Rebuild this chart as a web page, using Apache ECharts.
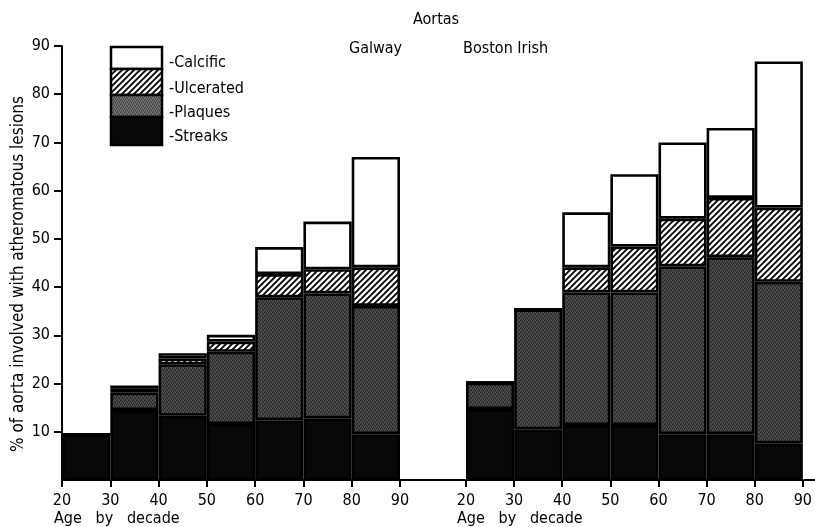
<!DOCTYPE html>
<html>
<head>
<meta charset="utf-8">
<script src="https://cdn.jsdelivr.net/npm/echarts@6/dist/echarts.min.js"></script>
<style>
  html, body { margin: 0; padding: 0; background: #fff; }
  #main { width: 815px; height: 527px; }
</style>
</head>
<body>
<div id="main"></div>
<script>
// decades shown as bars, tick labels under each panel
var decades = ['20-30', '30-40', '40-50', '50-60', '60-70', '70-80', '80-90'];
var ageTicks = [20, 30, 40, 50, 60, 70, 80, 90];
var yTicks = [10, 20, 30, 40, 50, 60, 70, 80, 90];
var lesionNames = ['Calcific', 'Ulcerated', 'Plaques', 'Streaks'];

// Galway (% of aorta per lesion type, stacked from the bottom)
var galwayStreaks   = [9.5, 14.5, 13.3, 11.6, 12.4, 12.8, 9.5];
var galwayPlaques   = [0, 3.6, 10.7, 15.0, 25.5, 25.9, 26.6];
var galwayUlcerated = [0, 0.8, 1.2, 2.1, 4.8, 5.0, 8.0];
var galwayCalcific  = [0, 0.7, 1.1, 1.4, 5.6, 9.9, 22.9];

// Boston Irish
var bostonStreaks   = [14.7, 10.5, 11.4, 11.4, 9.5, 9.5, 7.6];
var bostonPlaques   = [5.5, 24.9, 27.5, 27.5, 34.8, 36.7, 33.5];
var bostonUlcerated = [0, 0, 5.2, 9.5, 9.9, 12.3, 15.4];
var bostonCalcific  = [0, 0, 11.4, 15.0, 15.8, 14.5, 30.3];

var ink = '#000';
var font = 'DejaVu Sans Condensed';

// hatch for ulcerated
function hatchPattern() {
  var c = document.createElement('canvas');
  c.width = 6; c.height = 6;
  var g = c.getContext('2d');
  g.fillStyle = '#fff';
  g.fillRect(0, 0, 6, 6);
  g.strokeStyle = '#000';
  g.lineWidth = 1.9;
  g.beginPath();
  g.moveTo(0, 6); g.lineTo(6, 0);
  g.moveTo(-1, 1); g.lineTo(1, -1);
  g.moveTo(5, 7); g.lineTo(7, 5);
  g.stroke();
  return c;
}

// stipple for plaques
function stipplePattern(base, dark, light) {
  var c = document.createElement('canvas');
  c.width = 4; c.height = 4;
  var g = c.getContext('2d');
  g.fillStyle = base;
  g.fillRect(0, 0, 4, 4);
  g.fillStyle = dark;
  g.fillRect(0, 0, 1, 1); g.fillRect(2, 1, 1, 1); g.fillRect(1, 3, 1, 1); g.fillRect(3, 2, 1, 1);
  g.fillStyle = light;
  g.fillRect(1, 1, 1, 1); g.fillRect(3, 0, 1, 1); g.fillRect(0, 2, 1, 1); g.fillRect(2, 3, 1, 1);
  return c;
}

var fills = {
  Streaks: '#080808',
  Plaques: { image: stipplePattern('#3e3e3e', '#262626', '#575757'), repeat: 'repeat' },
  Ulcerated: { image: hatchPattern(), repeat: 'repeat' },
  Calcific: '#fff'
};
var legendFills = {
  Streaks: fills.Streaks,
  Plaques: { image: stipplePattern('#5e5e5e', '#444', '#7a7a7a'), repeat: 'repeat' },
  Ulcerated: fills.Ulcerated,
  Calcific: fills.Calcific
};

function barSeries(name, data, idx) {
  return {
    name: name,
    type: 'bar',
    stack: 'panel' + idx,
    xAxisIndex: idx * 2,
    yAxisIndex: idx,
    barCategoryGap: '0%',
    data: data,
    silent: true,
    itemStyle: { color: fills[name], borderColor: '#000', borderWidth: 2.6 }
  };
}

function ageAxis(grid) {
  return {
    type: 'value', gridIndex: grid, min: 20, max: 90, interval: 10, position: 'bottom',
    axisLine: { lineStyle: { color: '#000', width: 2 } },
    axisTick: { length: 7, lineStyle: { color: '#000', width: 2 } },
    axisLabel: { customValues: ageTicks, color: ink, fontFamily: font, fontSize: 16, margin: 13 },
    splitLine: { show: false }
  };
}

var chart = echarts.init(document.getElementById('main'));

// legend swatch (stacked box) drawn by hand like the original
var legendY = [47, 69, 95, 117, 145];
var legendGraphics = [];
lesionNames.forEach(function (n, i) {
  legendGraphics.push({
    type: 'rect', silent: true,
    shape: { x: 111, y: legendY[i], width: 51, height: legendY[i + 1] - legendY[i] },
    style: { fill: legendFills[n], stroke: '#000', lineWidth: 2.5 }
  });
});
var legendTextY = [63, 89, 113, 137];
lesionNames.forEach(function (n, i) {
  legendGraphics.push({
    type: 'text', silent: true, x: 169, y: legendTextY[i],
    style: { text: '-' + n, fill: ink, font: '16px ' + font, verticalAlign: 'middle' }
  });
});

var option = {
  animation: false,
  backgroundColor: '#fff',
  grid: [
    { left: 62, top: 46, width: 338, height: 434 },
    { left: 466, top: 46, width: 339, height: 434 }
  ],
  xAxis: [
    { type: 'category', gridIndex: 0, data: decades, show: false },
    ageAxis(0),
    { type: 'category', gridIndex: 1, data: decades, show: false },
    ageAxis(1)
  ],
  yAxis: [
    {
      type: 'value', gridIndex: 0, min: 0, max: 90, interval: 10,
      name: '% of aorta involved with atheromatous lesions',
      nameLocation: 'middle', nameGap: 35,
      nameTextStyle: { color: ink, fontFamily: font, fontSize: 17, padding: [0, 22, 0, 0] },
      axisLine: { show: true, lineStyle: { color: '#000', width: 2 } },
      axisTick: { show: true, customValues: yTicks, length: 8, lineStyle: { color: '#000', width: 2 } },
      axisLabel: { customValues: yTicks, color: ink, fontFamily: font, fontSize: 16, margin: 12 },
      splitLine: { show: false }
    },
    { type: 'value', gridIndex: 1, min: 0, max: 90, interval: 10, show: false, splitLine: { show: false } }
  ],
  series: [
    barSeries('Streaks', galwayStreaks, 0),
    barSeries('Plaques', galwayPlaques, 0),
    barSeries('Ulcerated', galwayUlcerated, 0),
    barSeries('Calcific', galwayCalcific, 0),
    barSeries('Streaks', bostonStreaks, 1),
    barSeries('Plaques', bostonPlaques, 1),
    barSeries('Ulcerated', bostonUlcerated, 1),
    barSeries('Calcific', bostonCalcific, 1)
  ],
  graphic: legendGraphics.concat([
    { type: 'text', silent: true, x: 436, y: 20, style: { text: 'Aortas', fill: ink, font: '16px ' + font, align: 'center', verticalAlign: 'middle' } },
    { type: 'text', silent: true, x: 349, y: 49, style: { text: 'Galway', fill: ink, font: '16px ' + font, verticalAlign: 'middle' } },
    { type: 'text', silent: true, x: 463, y: 49, style: { text: 'Boston Irish', fill: ink, font: '16px ' + font, verticalAlign: 'middle' } },
    { type: 'text', silent: true, x: 54, y: 519, style: { text: 'Age   by   decade', fill: ink, font: '16px ' + font, verticalAlign: 'middle' } },
    { type: 'text', silent: true, x: 457, y: 519, style: { text: 'Age   by   decade', fill: ink, font: '16px ' + font, verticalAlign: 'middle' } },
    // baseline runs on between and after the panels
    { type: 'line', silent: true, shape: { x1: 399, y1: 480, x2: 467, y2: 480 }, style: { stroke: '#000', lineWidth: 2 } },
    { type: 'line', silent: true, shape: { x1: 804, y1: 480, x2: 815, y2: 480 }, style: { stroke: '#000', lineWidth: 2 } }
  ])
};

chart.setOption(option);
</script>
</body>
</html>
